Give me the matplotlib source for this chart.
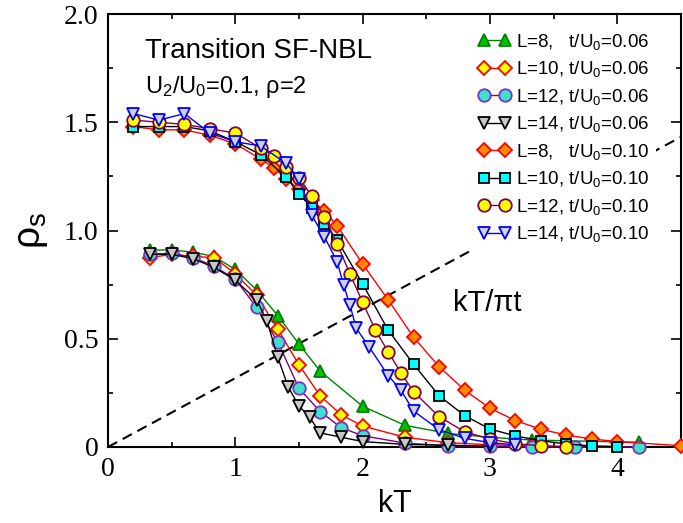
import matplotlib
matplotlib.use('Agg')
import matplotlib.pyplot as plt
import numpy as np
from matplotlib.ticker import MultipleLocator

plt.rcParams['mathtext.default'] = 'regular'
plt.rcParams['font.family'] = ['Liberation Sans', 'DejaVu Sans']

# t/U0 = 0.06
kt_l8_06 = [0.333, 0.5, 0.667, 0.833, 1.0, 1.167, 1.333, 1.5, 1.667, 2.0, 2.333, 2.667, 3.0, 3.333, 4.167]
rho_l8_06 = [0.91, 0.91, 0.90, 0.88, 0.82, 0.725, 0.607, 0.475, 0.35, 0.188, 0.10, 0.063, 0.045, 0.032, 0.022]

kt_l10_06 = [0.333, 0.5, 0.667, 0.833, 1.0, 1.167, 1.333, 1.5, 1.667, 1.833, 2.0, 2.333, 2.667, 3.0, 3.333]
rho_l10_06 = [0.875, 0.89, 0.88, 0.875, 0.80, 0.70, 0.545, 0.379, 0.236, 0.148, 0.097, 0.045, 0.02, 0.01, 0.005]

kt_l12_06 = [0.333, 0.5, 0.667, 0.833, 1.0, 1.167, 1.333, 1.5, 1.667, 1.833, 2.0, 2.333, 2.667, 3.0, 3.333, 3.667, 4.167]
rho_l12_06 = [0.89, 0.895, 0.875, 0.835, 0.775, 0.645, 0.486, 0.271, 0.163, 0.089, 0.052, 0.018, 0.006, 0.003, 0.001, 0.0, 0.0]

kt_l14_06 = [0.333, 0.5, 0.667, 0.833, 1.0, 1.167, 1.25, 1.333, 1.417, 1.5, 1.583, 1.667, 1.833, 2.0, 2.333, 2.667, 3.0]
rho_l14_06 = [0.89, 0.89, 0.87, 0.83, 0.77, 0.68, 0.58, 0.415, 0.275, 0.19, 0.137, 0.065, 0.045, 0.025, 0.012, 0.008, 0.004]

# t/U0 = 0.10
kt_l8_10 = [0.2, 0.4, 0.6, 0.8, 1.0, 1.2, 1.3, 1.4, 1.5, 1.6, 1.7, 1.8, 2.0, 2.2, 2.4, 2.6, 2.8, 3.0, 3.2, 3.4, 3.6, 3.8, 4.0, 4.5]
rho_l8_10 = [1.48, 1.465, 1.465, 1.44, 1.40, 1.33, 1.29, 1.24, 1.19, 1.14, 1.09, 1.022, 0.845, 0.68, 0.507, 0.371, 0.263, 0.179, 0.122, 0.082, 0.055, 0.037, 0.025, 0.006]

kt_l10_10 = [0.2, 0.4, 0.6, 0.8, 1.0, 1.2, 1.4, 1.5, 1.6, 1.7, 1.8, 2.0, 2.2, 2.4, 2.6, 2.8, 3.0, 3.2, 3.4, 3.6, 3.8, 4.0]
rho_l10_10 = [1.48, 1.48, 1.48, 1.46, 1.41, 1.35, 1.245, 1.17, 1.105, 1.03, 0.956, 0.753, 0.54, 0.382, 0.237, 0.145, 0.083, 0.051, 0.029, 0.014, 0.005, 0.002]

kt_l12_10 = [0.2, 0.4, 0.6, 0.8, 1.0, 1.2, 1.3, 1.4, 1.5, 1.6, 1.7, 1.8, 1.9, 2.0, 2.1, 2.2, 2.3, 2.4, 2.6, 2.8, 3.0, 3.2, 3.4, 3.6]
rho_l12_10 = [1.51, 1.50, 1.49, 1.47, 1.45, 1.38, 1.344, 1.295, 1.244, 1.16, 1.064, 0.938, 0.80, 0.668, 0.54, 0.44, 0.343, 0.255, 0.14, 0.071, 0.036, 0.015, 0.006, 0.002]

kt_l14_10 = [0.2, 0.4, 0.6, 0.8, 1.0, 1.2, 1.4, 1.5, 1.6, 1.7, 1.8, 1.85, 1.9, 1.95, 2.05, 2.2, 2.3, 2.4, 2.6, 2.8, 3.0, 3.2]
rho_l14_10 = [1.54, 1.51, 1.54, 1.45, 1.41, 1.39, 1.31, 1.24, 1.07, 0.97, 0.856, 0.748, 0.656, 0.548, 0.463, 0.33, 0.263, 0.166, 0.08, 0.04, 0.02, 0.01]

labels = [r'L=8,   t/U$_0$=0.06', r'L=10, t/U$_0$=0.06', r'L=12, t/U$_0$=0.06', r'L=14, t/U$_0$=0.06',
          r'L=8,   t/U$_0$=0.10', r'L=10, t/U$_0$=0.10', r'L=12, t/U$_0$=0.10', r'L=14, t/U$_0$=0.10']

series = [
    (kt_l8_06, rho_l8_06, '^', '#00c000', '#008000', '#008000'),
    (kt_l10_06, rho_l10_06, 'D', '#ffff00', '#ff0000', '#ff0000'),
    (kt_l12_06, rho_l12_06, 'o', '#40e0d0', '#8030c0', '#800080'),
    (kt_l14_06, rho_l14_06, 'v', '#c8c8c8', '#000000', '#000000'),
    (kt_l8_10, rho_l8_10, 'D', '#ff8c00', '#ff0000', '#ff0000'),
    (kt_l10_10, rho_l10_10, 's', '#00ffff', '#000000', '#000000'),
    (kt_l12_10, rho_l12_10, 'o', '#ffff00', '#800040', '#800040'),
    (kt_l14_10, rho_l14_10, 'v', '#d0d0d8', '#0000ff', '#0000ff'),
]
msizes = {'^': 9, 'D': 7, 'o': 9, 'v': 9, 's': 7}

fig = plt.figure(figsize=(6.83, 5.23), dpi=100)
ax = fig.add_axes([108/683, 76/523, 573/683, 433/523])

# kT / (pi t) line
kt_line = np.array([0.0, 4.5])
ax.plot(kt_line, kt_line/np.pi, color='black', ls=(0, (5, 3)), lw=1.5, zorder=1)

for (x, y, m, fc, ec, lc), lab in zip(series, labels):
    ax.plot(x, y, marker=m, markersize=msizes[m], markerfacecolor=fc, markeredgecolor=ec,
            markeredgewidth=1.3, color=lc, lw=1.0, label=lab, clip_on=False, zorder=3)

ax.set_xlim(0, 4.5)
ax.set_ylim(0, 2.0)
ax.xaxis.set_minor_locator(MultipleLocator(0.5))
ax.yaxis.set_minor_locator(MultipleLocator(0.25))
ax.tick_params(which='both', direction='in', top=True, right=True, width=1.2)
ax.tick_params(which='major', length=7, pad=7)
ax.tick_params(which='minor', length=3.6)
ax.set_xticks([0, 1, 2, 3, 4])
ax.set_xticklabels(['0', '1', '2', '3', '4'], family='Liberation Serif', fontsize=20)
ax.set_yticks([0, 0.5, 1.0, 1.5, 2.0])
ax.set_yticklabels(['0', '0.5', '1.0', '1.5', '2.0'], family='Liberation Serif', fontsize=20)
for sp in ax.spines.values():
    sp.set_linewidth(1.5)

ax.set_xlabel('kT', fontsize=22, labelpad=5)
ax.set_ylabel('ρ$_s$', fontsize=28, labelpad=10)

ax.text(0.065, 0.945, 'Transition SF-NBL', transform=ax.transAxes, fontsize=20, va='top')
ax.text(0.065, 0.862, 'U$_2$/U$_0$=0.1, ρ=2', transform=ax.transAxes, fontsize=17, va='top')
ax.text(2.71, 0.63, 'kT/πt', fontsize=21)

leg = ax.legend(loc='upper right', bbox_to_anchor=(0.963, 0.983), frameon=True, fancybox=False,
                framealpha=1, edgecolor='none', numpoints=2, fontsize=13.5, handlelength=1.7,
                handletextpad=0.3, labelspacing=0.4, borderpad=0.35, borderaxespad=0.2)
leg.set_zorder(5)

fig.savefig('out.png', dpi=100)
